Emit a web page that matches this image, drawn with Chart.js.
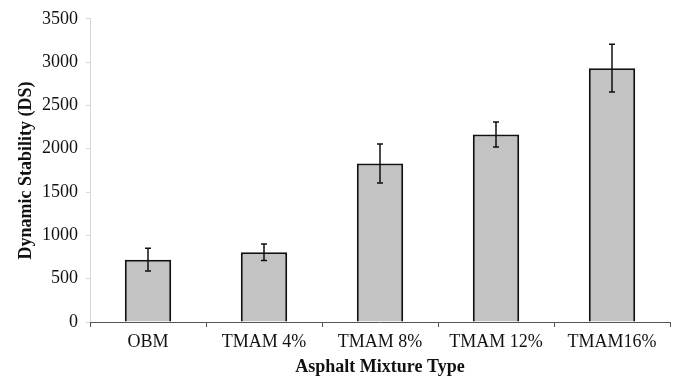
<!DOCTYPE html>
<html>
<head>
<meta charset="utf-8">
<script src="https://cdn.jsdelivr.net/npm/chart.js@4/dist/chart.umd.min.js"></script>
<style>
  html, body { margin: 0; padding: 0; background: #fff; }
  #wrap { width: 680px; height: 385px; }
</style>
</head>
<body>
<div id="wrap"><canvas id="grafico"></canvas></div>
<script>
const categorias = ['OBM', 'TMAM 4%', 'TMAM 8%', 'TMAM 12%', 'TMAM16%'];
const estabilidade = [720, 805, 1830, 2165, 2930]; // DS media de cada mistura
const desvio = [130, 95, 225, 145, 275];           // barra de erro (+/-)
const ticksY = [0, 500, 1000, 1500, 2000, 2500, 3000, 3500];

const fonte = "'Liberation Serif', 'Times New Roman', serif";

// desenha as barras de erro usando a escala do proprio grafico
const barrasErro = {
  id: 'barrasErro',
  afterDatasetsDraw(chart) {
    const ctx = chart.ctx;
    const y = chart.scales.y;
    const meta = chart.getDatasetMeta(0);
    ctx.save();
    ctx.strokeStyle = '#111';
    ctx.lineWidth = 1.5;
    meta.data.forEach((barra, i) => {
      const topo = y.getPixelForValue(estabilidade[i] + desvio[i]);
      const base = y.getPixelForValue(estabilidade[i] - desvio[i]);
      ctx.beginPath();
      ctx.moveTo(barra.x, topo);
      ctx.lineTo(barra.x, base);
      ctx.moveTo(barra.x - 3, topo);
      ctx.lineTo(barra.x + 3, topo);
      ctx.moveTo(barra.x - 3, base);
      ctx.lineTo(barra.x + 3, base);
      ctx.stroke();
    });
    ctx.restore();
  }
};

new Chart(document.getElementById('grafico'), {
  type: 'bar',
  data: {
    labels: categorias,
    datasets: [{
      label: 'DS',
      data: estabilidade,
      backgroundColor: '#c3c3c3',
      borderColor: '#111',
      borderWidth: 2,
      categoryPercentage: 1,
      barPercentage: 0.4
    }]
  },
  options: {
    responsive: true,
    maintainAspectRatio: false,
    animation: false,
    layout: { padding: { top: 14, right: 10, left: 0, bottom: 7 } },
    plugins: { legend: { display: false }, tooltip: { enabled: false } },
    scales: {
      y: {
        min: 0,
        max: 3500,
        afterBuildTicks: s => { s.ticks = ticksY.map(v => ({ value: v })); },
        afterFit: s => { s.width = 90; },
        ticks: {
          color: '#111',
          font: { family: fonte, size: 18 },
          padding: 8,
          callback: v => String(v)
        },
        grid: { drawOnChartArea: false, color: '#d6d6d6', tickLength: 4 },
        border: { color: '#d6d6d6', width: 1 },
        title: {
          display: true,
          text: 'Dynamic Stability (DS)',
          color: '#111',
          font: { family: fonte, size: 18, weight: 'bold' },
          padding: { top: 16, bottom: 0 }
        }
      },
      x: {
        afterFit: s => { s.height = 56; },
        ticks: { color: '#111', font: { family: fonte, size: 18 }, padding: 4 },
        grid: { drawOnChartArea: false, offset: true, color: '#555', tickLength: 5 },
        border: { color: '#555', width: 1 },
        title: {
          display: true,
          text: 'Asphalt Mixture Type',
          color: '#111',
          font: { family: fonte, size: 18, weight: 'bold' },
          padding: { top: 2, bottom: 0 }
        }
      }
    }
  },
  plugins: [barrasErro]
});
</script>
</body>
</html>
